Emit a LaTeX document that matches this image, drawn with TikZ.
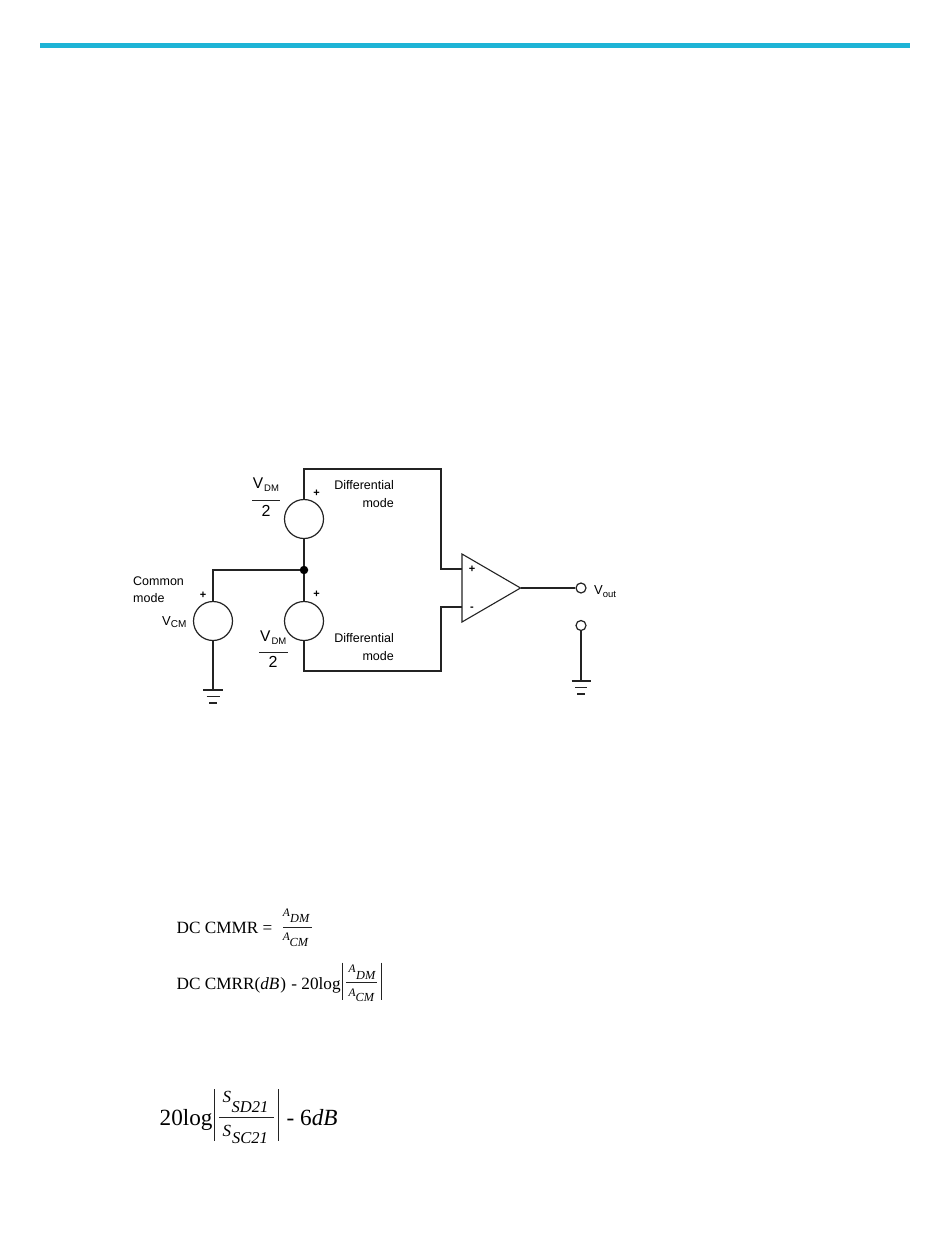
\documentclass[tikz,border=0pt]{standalone}
\usepackage{fontspec}
\setmainfont{Liberation Serif}
\newfontfamily\arialf{Liberation Sans}
\usetikzlibrary{calc}
\definecolor{barc}{RGB}{30,180,214}
\definecolor{wirec}{RGB}{35,35,35}
\newcommand{\sz}[1]{\fontsize{#1}{#1}\selectfont}
\tikzset{
  wire/.style={draw=wirec,line width=1.1pt,line join=miter},
  srcc/.style={circle,draw=wirec,line width=1.2pt,minimum size=39pt,inner sep=0pt,fill=white},
  term/.style={circle,draw=wirec,line width=1.2pt,minimum size=10pt,inner sep=0pt,fill=white},
  dotc/.style={circle,fill=black,draw=none,minimum size=8.5pt,inner sep=0pt},
  lab/.style={font=\arialf\sz{12.5},text=black,inner sep=0pt,align=left},
  fml/.style={inner sep=0pt,text=black,anchor=base west},
  fa/.style={fml,font=\sz{11.5}\itshape},
  fb/.style={fml,font=\sz{12.3}\itshape},
  sa/.style={fml,font=\sz{17}\itshape},
  sb/.style={fml,font=\sz{16.5}\itshape},
  rulef/.style={draw=wirec,line width=.8pt},
  ruleg/.style={draw=wirec,line width=1pt},
  pl/.style={font=\arialf\bfseries\sz{11},inner sep=0pt,text=black}
}
\begin{document}
\begin{tikzpicture}[x=1pt,y=-1pt]
\useasboundingbox (0,0) rectangle (950,1260);
\fill[white] (0,0) rectangle (950,1260);
\fill[barc] (40,43.4) rectangle (910,48.4);
% sources
\node[srcc] (s1) at (304,519) {};
\node[srcc] (s2) at (304,621) {};
\node[srcc] (s3) at (213,621) {};
\node[dotc] (j) at (304,570) {};
\node[term] (t1) at (581,588) {};
\node[term] (t2) at (581,625.5) {};
% op amp
\coordinate (oa) at (462,554);
\coordinate (ob) at (462,622);
\coordinate (oc) at (520.5,588);
\coordinate (ip) at (462,569);
\coordinate (im) at (462,607);
\coordinate (tr) at (441,469);
\coordinate (br) at (441,671);
\coordinate (g1) at (213,690);
\coordinate (g2) at (581,681);
\draw[wire] (oa) -- (ob) -- (oc) -- cycle;
\draw[wire] (s1.north) -- (s1.north |- tr) -- (tr) -- (tr |- ip) -- (ip);
\draw[wire] (s2.south) -- (s2.south |- br) -- (br) -- (br |- im) -- (im);
\draw[wire] (s1.south) -- (j) -- (s2.north);
\draw[wire] (j) -- (j -| s3) -- (s3.north);
\draw[wire] (s3.south) -- (g1);
\draw[wire] (oc) -- (t1.west);
\draw[wire] (t2.south) -- (g2);
% grounds
\draw[wire] ($(g1)+(-10,0)$) -- ($(g1)+(10,0)$);
\draw[wire] ($(g1)+(-6.5,6.5)$) -- ($(g1)+(6.5,6.5)$);
\draw[wire] ($(g1)+(-4,13)$) -- ($(g1)+(4,13)$);
\draw[wire] ($(g2)+(-9.5,0)$) -- ($(g2)+(9.5,0)$);
\draw[wire] ($(g2)+(-6,6.5)$) -- ($(g2)+(6,6.5)$);
\draw[wire] ($(g2)+(-4,13)$) -- ($(g2)+(4,13)$);
% labels
\node[lab,anchor=base west] (c1) at (133,585) {Common};
\node[lab,anchor=base west] (c2) at (133,602) {mode};
\node[lab,anchor=base west] (vcm) at (162,625.5) {\sz{13}V\raisebox{-2pt}{\sz{10}CM}};
\node[pl] (p3) at (203,595) {+};
\node[pl] (p2) at (316.5,594) {+};
\node[pl] (p1) at (316.5,493) {+};
\node[lab,anchor=base east] (d1) at (394,489) {Differential};
\node[lab,anchor=base east] (d2) at (394,507.5) {mode};
\node[lab,anchor=base east] (d3) at (394,642) {Differential};
\node[lab,anchor=base east] (d4) at (394,660) {mode};
\node[lab,anchor=base west] (v1) at (252.7,488) {\sz{15.5}V\hspace{1pt}\raisebox{-3.5pt}{\sz{9.5}DM}};
\draw[wire,line width=1pt] (252,500.7) -- (280,500.7);
\node[lab,anchor=base] (n1) at (266,516) {\sz{16}2};
\node[lab,anchor=base west] (v2) at (260,641) {\sz{15.5}V\hspace{1pt}\raisebox{-3.5pt}{\sz{9.5}DM}};
\draw[wire,line width=1pt] (259,652.3) -- (288,652.3);
\node[lab,anchor=base] (n2) at (273,667.5) {\sz{16}2};
\node[pl] (ipl) at (472,569) {+};
\node[pl] (iml) at (472,609) {-};
\node[lab,anchor=base west] (vo) at (594,594) {\sz{13}V\raisebox{-3.5pt}{\sz{9.5}out}};
% formulas
\node[fml] (f1) at (176.5,933.3) {\sz{17.2}DC CMMR =};
\node[fa] (f1a) at (282.7,916) {A};
\node[fb] (f1b) at (290,922) {DM};
\node[fa] (f1c) at (282.7,940) {A};
\node[fb] (f1d) at (289.5,946) {CM};
\draw[rulef] (283,927.7) -- (312,927.7);
\node[fml] (f2) at (176.5,989.3) {\sz{17.2}DC CMRR(\textit{dB}\hspace{1pt})\hspace{1pt} - 20log};
\node[fa] (f2a) at (348.3,972) {A};
\node[fb] (f2b) at (356,979) {DM};
\node[fa] (f2c) at (348.3,996) {A};
\node[fb] (f2d) at (355.5,1001.7) {CM};
\draw[rulef] (346,982.7) -- (377.3,982.7);
\draw[rulef] (342.5,962.7) -- (342.5,999.5);
\draw[rulef] (381.7,962.7) -- (381.7,999.5);
\node[fml] (f3) at (159.5,1125) {\sz{23.2}20log};
\node[sa] (f3a) at (222.5,1102) {S};
\node[sb] (f3b) at (231.5,1112.3) {SD21};
\node[sa] (f3c) at (222.5,1136) {S};
\node[sb] (f3d) at (232,1143.3) {SC21};
\draw[ruleg] (219,1117.7) -- (274,1117.7);
\draw[ruleg] (214.3,1089.3) -- (214.3,1140.7);
\draw[ruleg] (278.3,1089.3) -- (278.3,1140.7);
\node[fml] (f4) at (286.5,1125) {\sz{23.2}- 6\textit{dB}};
\end{tikzpicture}
\end{document}
